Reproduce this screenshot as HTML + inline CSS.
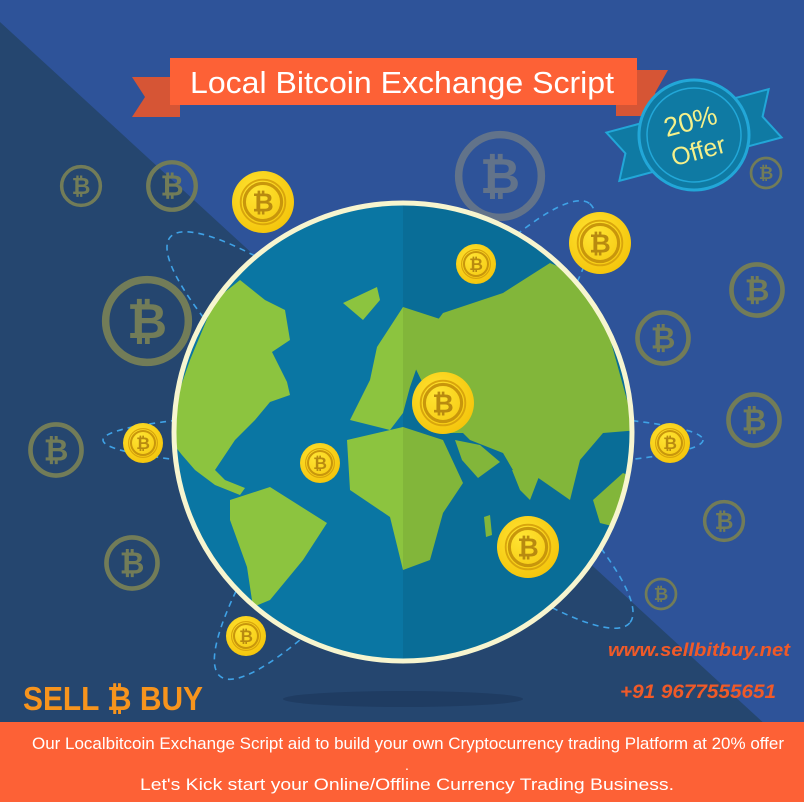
<!DOCTYPE html>
<html><head><meta charset="utf-8"><style>
html,body{margin:0;padding:0;width:804px;height:802px;overflow:hidden;background:#2e5399}
svg{display:block}
text{font-family:"Liberation Sans",sans-serif}
</style></head><body>
<svg width="804" height="802" viewBox="0 0 804 802">
<defs>
<clipPath id="gc"><circle cx="403" cy="432" r="229"/></clipPath>
<radialGradient id="coinG" cx="0.4" cy="0.35" r="0.7"><stop offset="0" stop-color="#ffe433"/><stop offset="1" stop-color="#f4c40a"/></radialGradient>
<g id="coin"><circle r="1" fill="url(#coinG)"/><circle r="0.72" fill="none" stroke="#d9a50c" stroke-width="0.06"/><circle r="0.6" fill="none" stroke="#c8960c" stroke-width="0.1"/><text x="0" y="0.3" font-size="0.85" font-weight="bold" fill="#b88a10" text-anchor="middle">₿</text></g>
<g id="fcoin"><circle r="0.88" fill="none" stroke="currentColor" stroke-width="0.16"/><text x="0" y="0.36" font-size="1.05" font-weight="bold" fill="currentColor" text-anchor="middle">₿</text></g>
</defs>
<rect width="804" height="802" fill="#2e5399"/>
<polygon points="0,22 804,760 804,802 0,802" fill="#25466f"/>
<ellipse cx="403" cy="699" rx="120" ry="8" fill="#1f3c62"/>

<g color="#727c58">
<use href="#fcoin" transform="translate(81,186) scale(22)"/>
<use href="#fcoin" transform="translate(172,186) scale(27)"/>
<use href="#fcoin" transform="translate(147,321) scale(47)"/>
<use href="#fcoin" transform="translate(500,176) scale(47)" color="#62738a"/>
<use href="#fcoin" transform="translate(766,173) scale(17)"/>
<use href="#fcoin" transform="translate(757,290) scale(29)"/>
<use href="#fcoin" transform="translate(663,338) scale(29)"/>
<use href="#fcoin" transform="translate(56,450) scale(29)"/>
<use href="#fcoin" transform="translate(754,420) scale(29)"/>
<use href="#fcoin" transform="translate(724,521) scale(22)"/>
<use href="#fcoin" transform="translate(132,563) scale(29)"/>
<use href="#fcoin" transform="translate(661,594) scale(17)"/>
</g>

<g fill="none" stroke="#3fa2e6" stroke-width="1.6" stroke-dasharray="6,5">
<ellipse cx="403" cy="440" rx="300" ry="30"/>
<ellipse cx="400" cy="430" rx="300" ry="60" transform="rotate(40 400 430)"/>
<ellipse cx="405" cy="440" rx="300" ry="60" transform="rotate(-52 405 440)"/>
</g>

<g>
<circle cx="403" cy="432" r="229" fill="#0a76a3"/>
<g clip-path="url(#gc)" fill="#8cc43f">
<polygon points="170,440 176,400 190,360 215,300 240,280 265,300 285,310 290,340 272,352 287,382 290,395 270,402 255,420 235,440 225,455 215,470 225,480 245,488 240,495 215,485 195,470 182,455"/>
<polygon points="343,303 377,287 380,300 363,320"/>
<polygon points="230,500 270,487 327,523 303,560 270,600 253,607 247,567 230,520"/>
<polygon points="347,440 403,427 443,440 463,483 443,513 430,560 403,570 390,517 350,490"/>
<polygon points="350,420 370,380 377,347 403,307 443,320 417,367 410,387 403,413 390,430"/>
<polygon points="410,357 443,313 503,293 550,263 590,280 603,313 627,400 640,430 603,433 580,460 570,500 537,477 517,477 503,453 470,440 463,433 447,433"/>
<polygon points="455,440 480,445 500,462 478,478 462,460"/>
<polygon points="512,470 540,474 530,500 520,490"/>
<polygon points="593,500 623,473 640,480 640,533 600,523"/>
<polygon points="484,517 490,515 492,535 486,537"/>
<rect x="403" y="200" width="240" height="470" fill="#000" opacity="0.07"/>
</g>
<circle cx="403" cy="432" r="229" fill="none" stroke="#f7f5cf" stroke-width="5"/>
</g>

<g>
<use href="#coin" transform="translate(263,202) scale(31)"/>
<use href="#coin" transform="translate(476,264) scale(20)"/>
<use href="#coin" transform="translate(600,243) scale(31)"/>
<use href="#coin" transform="translate(443,403) scale(31)"/>
<use href="#coin" transform="translate(143,443) scale(20)"/>
<use href="#coin" transform="translate(320,463) scale(20)"/>
<use href="#coin" transform="translate(670,443) scale(20)"/>
<use href="#coin" transform="translate(528,547) scale(31)"/>
<use href="#coin" transform="translate(246,636) scale(20)"/>
</g>

<g>
<polygon points="132,77 180,77 180,117 132,117 145,97" fill="#d65535"/>
<polygon points="616,70 668,70 655,93 668,116 616,116" fill="#d65535"/>
<rect x="170" y="58" width="467" height="47" fill="#fd6136"/>
<text x="402" y="93" font-size="31" fill="#fff" text-anchor="middle" textLength="424" lengthAdjust="spacingAndGlyphs">Local Bitcoin Exchange Script</text>
</g>

<g transform="rotate(-15 694 135)">
<polygon points="610,110 778,110 765,135 778,160 610,160 623,135" fill="#0f7aa3" stroke="#22a7d8" stroke-width="2"/>
<circle cx="694" cy="135" r="55" fill="#0f7aa3" stroke="#22a7d8" stroke-width="3"/>
<circle cx="694" cy="135" r="47" fill="none" stroke="#22a7d8" stroke-width="1.5"/>
<text x="694" y="130" font-size="27" fill="#f5f08a" text-anchor="middle">20%</text>
<text x="694" y="160" font-size="25" fill="#f5f08a" text-anchor="middle">Offer</text>
</g>

<g>
<text x="23" y="710" font-size="33" font-weight="bold" fill="#f7941d" textLength="180" lengthAdjust="spacingAndGlyphs">SELL ₿ BUY</text>
</g>
<text x="790" y="656" font-size="18" font-weight="bold" font-style="italic" fill="#f05a28" text-anchor="end" textLength="182" lengthAdjust="spacingAndGlyphs">www.sellbitbuy.net</text>
<text x="776" y="698" font-size="19" font-weight="bold" font-style="italic" fill="#f05a28" text-anchor="end" textLength="156" lengthAdjust="spacingAndGlyphs">+91 9677555651</text>

<g>
<rect x="0" y="722" width="804" height="80" fill="#fd6136"/>
<text x="408" y="749" font-size="17" fill="#fff" text-anchor="middle" textLength="752" lengthAdjust="spacingAndGlyphs">Our Localbitcoin Exchange Script aid to build your own Cryptocurrency trading Platform at 20% offer</text>
<text x="407" y="770" font-size="14" fill="#fff" text-anchor="middle">.</text>
<text x="407" y="790" font-size="17" fill="#fff" text-anchor="middle" textLength="534" lengthAdjust="spacingAndGlyphs">Let's Kick start your Online/Offline Currency Trading Business.</text>
</g>
</svg>
</body></html>
